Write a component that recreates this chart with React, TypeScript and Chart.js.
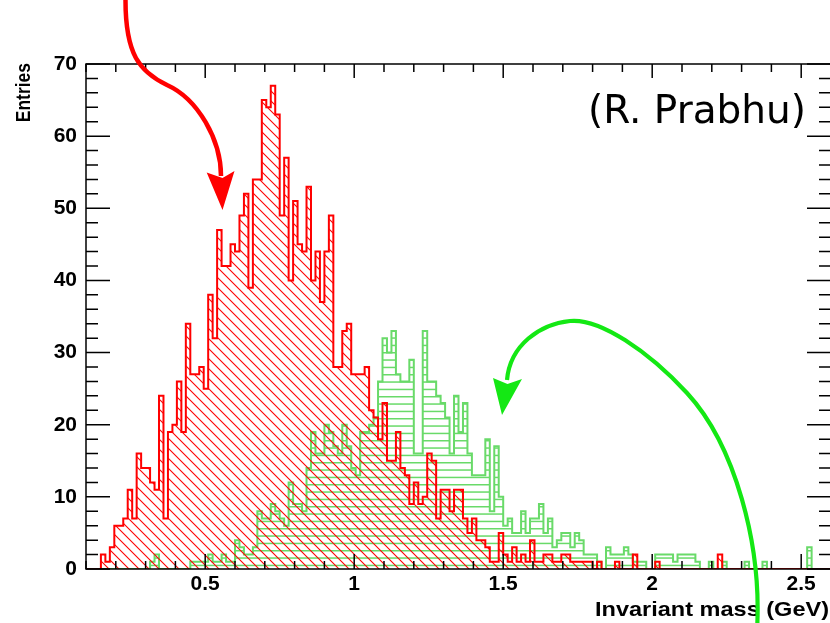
import React, { useEffect, useRef } from 'react';
import { Chart, registerables } from 'chart.js';

Chart.register(...registerables);

// ---- binning / axis ranges ----
const BIN_WIDTH = 0.015; // GeV
const X_MIN = 0.1;
const X_MAX = 2.6;
const Y_MIN = 0;
const Y_MAX = 70;

// ---- red histogram (diagonal hatch), first bin lower edge = RED_FIRST_BIN * BIN_WIDTH ----
const RED_FIRST_BIN = 10;
const redCounts = [
  2, 1, 3, 6, 6, 7, 11, 7, 16, 14,
  14, 12, 11, 24, 7, 19, 20, 26, 19, 34,
  27, 27, 28, 25, 38, 32, 47, 42, 42, 45,
  44, 49, 52, 39, 54, 54, 65, 64, 67, 63,
  49, 57, 40, 51, 45, 44, 53, 40, 44, 37,
  44, 49, 28, 28, 33, 34, 27, 27, 27, 28,
  22, 21, 18, 23, 15, 15, 19, 14, 13, 9,
  12, 9, 10, 16, 15, 7, 11, 11, 8, 11,
  11, 7, 5, 7, 4, 4, 3, 1, 1, 5,
  2, 1, 3, 1, 2, 1, 4, 1, 1, 2,
  2, 1, 1, 2, 2, 1, 1, 1, 1, 1,
  0, 1, 0, 0, 0, 1, 0, 0, 0, 2,
  0, 0, 0, 0, 1, 0, 0, 0, 0, 0,
  0, 0, 0, 0, 0, 0, 0, 0, 2,
];

// ---- green histogram (horizontal hatch) ----
const GREEN_FIRST_BIN = 21;
const greenCounts = [
  1, 2, 0, 0, 0, 0, 0, 0, 0, 1,
  1, 1, 1, 2, 1, 1, 2, 1, 1, 4,
  3, 2, 2, 3, 8, 7, 7, 9, 8, 7,
  6, 12, 9, 9, 8, 14, 19, 16, 16, 20,
  19, 17, 16, 20, 17, 14, 13, 19, 19, 20,
  21, 26, 32, 30, 33, 27, 26, 26, 29, 16,
  16, 33, 26, 26, 24, 23, 21, 16, 24, 19,
  23, 16, 13, 13, 13, 18, 8, 17, 10, 6,
  7, 5, 5, 8, 5, 7, 7, 9, 5, 7,
  3, 4, 5, 5, 3, 5, 4, 2, 2, 2,
  1, 0, 3, 2, 2, 2, 3, 2, 1, 1,
  1, 0, 0, 2, 2, 2, 2, 1, 2, 2,
  2, 2, 1, 0, 0, 1, 0, 0, 1, 0,
  0, 0, 0, 1, 0, 0, 0, 1, 0, 0,
  0, 0, 0, 0, 0, 0, 0, 3,
];

// ---- ticks and texts ----
const xTickValues = [0.5, 1, 1.5, 2, 2.5];
const yTickValues = [0, 10, 20, 30, 40, 50, 60, 70];
const X_MINOR_STEP = 0.1;
const Y_MINOR_STEP = 2;
const X_TITLE = 'Invariant mass (GeV)';
const Y_TITLE = 'Entries';
const CREDIT = '(R. Prabhu)';

// ---- annotation arrows, in data units (GeV, entries) ----
// start, then cubic segments (c1, c2, end)
const redArrowPath = [
  [0.2326, 79.15],
  [0.2309, 71.25], [0.2812, 68.89], [0.3718, 67.09],
  [0.4758, 65.15], [0.553, 59.47], [0.553, 54.48],
];
const redArrowHead = [[0.505, 54.96], [0.5581, 49.76], [0.5983, 55.17], [0.5581, 54.2]];
const greenArrowPath = [
  [2.3517, -8.46],
  [2.3685, 3.33], [2.2779, 17.19], [2.1168, 24.4],
  [1.9879, 30.16], [1.8248, 34.79], [1.7242, 34.38],
  [1.6235, 33.96], [1.5228, 31.05], [1.5128, 26.2],
];
const greenArrowHead = [[1.4658, 26.48], [1.496, 21.35], [1.5631, 26.34], [1.5144, 25.64]];

const RED = '#ff0000';
const GREEN_HIST = 'rgb(105,218,105)';
const GREEN_ARROW = 'rgb(20,232,20)';
const TICK_FONT = '"Liberation Sans", Arial, Helvetica, sans-serif';

function histPoints(first: number, counts: number[]) {
  const lo = Math.floor(X_MIN / BIN_WIDTH + 1e-9) - 1;
  const hi = Math.ceil(X_MAX / BIN_WIDTH - 1e-9) + 1;
  const pts: { x: number; y: number }[] = [{ x: lo * BIN_WIDTH, y: 0 }];
  for (let i = lo; i < hi; i++) {
    const k = i - first;
    const v = k >= 0 && k < counts.length ? counts[k] : 0;
    pts.push({ x: i * BIN_WIDTH, y: v });
  }
  pts.push({ x: hi * BIN_WIDTH, y: 0 });
  return pts;
}

function makeDiagPattern(ctx: CanvasRenderingContext2D) {
  const s = 10;
  const c = document.createElement('canvas');
  c.width = s;
  c.height = s;
  const g = c.getContext('2d')!;
  g.strokeStyle = RED;
  g.lineWidth = 1.1;
  g.beginPath();
  g.moveTo(-1, -1); g.lineTo(s + 1, s + 1);
  g.moveTo(s - 1, -1); g.lineTo(s + 1, 1);
  g.moveTo(-1, s - 1); g.lineTo(1, s + 1);
  g.stroke();
  return ctx.createPattern(c, 'repeat')!;
}

function makeHorizPattern(ctx: CanvasRenderingContext2D) {
  const w = 8, h = 22;
  const c = document.createElement('canvas');
  c.width = w;
  c.height = h;
  const g = c.getContext('2d')!;
  g.fillStyle = GREEN_HIST;
  [0, 7.3, 14.7].forEach((y) => g.fillRect(0, y, w, 1.5));
  return ctx.createPattern(c, 'repeat')!;
}

const rootFramePlugin = {
  id: 'rootFrame',
  afterDraw(chart: any) {
    const { ctx, chartArea: a, scales } = chart;
    const xs = scales.x;
    const ys = scales.y;
    const P = (p: number[]) => [xs.getPixelForValue(p[0]), ys.getPixelForValue(p[1])];
    ctx.save();

    // frame
    ctx.strokeStyle = '#000';
    ctx.lineWidth = 1.5;
    ctx.strokeRect(a.left, a.top, a.right - a.left, a.bottom - a.top);

    // x ticks (inward on bottom and top)
    const nX = Math.round((X_MAX - X_MIN) / X_MINOR_STEP);
    ctx.beginPath();
    for (let k = 0; k <= nX; k++) {
      const v = X_MIN + k * X_MINOR_STEP;
      const major = xTickValues.some((t) => Math.abs(t - v) < 1e-6);
      const px = xs.getPixelForValue(v);
      ctx.moveTo(px, a.bottom);
      ctx.lineTo(px, a.bottom - (major ? 15 : 8));
      ctx.moveTo(px, a.top);
      ctx.lineTo(px, a.top + (major ? 14 : 8));
    }
    // y ticks (inward on left and right)
    for (let v = Y_MIN; v <= Y_MAX + 1e-9; v += Y_MINOR_STEP) {
      const major = yTickValues.includes(v);
      const py = ys.getPixelForValue(v);
      const len = major ? 24 : 12;
      ctx.moveTo(a.left, py);
      ctx.lineTo(a.left + len, py);
      ctx.moveTo(a.right, py);
      ctx.lineTo(a.right - len, py);
    }
    ctx.stroke();

    // axis titles
    ctx.fillStyle = '#000';
    ctx.font = `bold 18px ${TICK_FONT}`;
    ctx.save();
    ctx.translate(30, a.top - 1);
    ctx.rotate(-Math.PI / 2);
    ctx.scale(0.97, 1.15);
    ctx.textAlign = 'right';
    ctx.textBaseline = 'alphabetic';
    ctx.fillText(Y_TITLE, 0, 0);
    ctx.restore();

    ctx.save();
    ctx.translate(829, 616);
    ctx.scale(1.12, 1);
    ctx.font = `bold 21px ${TICK_FONT}`;
    ctx.textAlign = 'right';
    ctx.textBaseline = 'alphabetic';
    ctx.fillText(X_TITLE, 0, 0);
    ctx.restore();

    // credit
    ctx.font = '39px "DejaVu Sans", Verdana, sans-serif';
    ctx.textAlign = 'right';
    ctx.textBaseline = 'alphabetic';
    ctx.fillText(CREDIT, a.right - 25, a.top + 59);

    // arrows
    const drawArrow = (path: number[][], head: number[][], color: string, width: number) => {
      const pts = path.map(P);
      ctx.strokeStyle = color;
      ctx.fillStyle = color;
      ctx.lineWidth = width;
      ctx.lineCap = 'butt';
      ctx.lineJoin = 'round';
      ctx.beginPath();
      ctx.moveTo(pts[0][0], pts[0][1]);
      for (let i = 1; i + 2 < pts.length; i += 3) {
        ctx.bezierCurveTo(pts[i][0], pts[i][1], pts[i + 1][0], pts[i + 1][1], pts[i + 2][0], pts[i + 2][1]);
      }
      ctx.stroke();
      const hp = head.map(P);
      ctx.beginPath();
      ctx.moveTo(hp[0][0], hp[0][1]);
      for (let i = 1; i < hp.length; i++) ctx.lineTo(hp[i][0], hp[i][1]);
      ctx.closePath();
      ctx.fill();
    };
    drawArrow(redArrowPath, redArrowHead, RED, 4.5);
    drawArrow(greenArrowPath, greenArrowHead, GREEN_ARROW, 4.2);

    ctx.restore();
  },
};

export default function App() {
  const ref = useRef<HTMLCanvasElement>(null);

  useEffect(() => {
    const canvas = ref.current!;
    const ctx = canvas.getContext('2d')!;
    const redPattern = makeDiagPattern(ctx);
    const greenPattern = makeHorizPattern(ctx);

    const chart = new Chart(canvas, {
      type: 'line',
      data: {
        datasets: [
          {
            label: 'red',
            data: histPoints(RED_FIRST_BIN, redCounts),
            stepped: 'before',
            borderColor: RED,
            borderWidth: 2,
            backgroundColor: redPattern as any,
            fill: 'origin',
            pointRadius: 0,
            pointHoverRadius: 0,
            tension: 0,
            order: 0,
          },
          {
            label: 'green',
            data: histPoints(GREEN_FIRST_BIN, greenCounts),
            stepped: 'before',
            borderColor: GREEN_HIST,
            borderWidth: 2,
            backgroundColor: greenPattern as any,
            fill: 'origin',
            pointRadius: 0,
            pointHoverRadius: 0,
            tension: 0,
            order: 1,
          },
        ],
      },
      options: {
        animation: false,
        responsive: false,
        devicePixelRatio: 1,
        events: [],
        layout: { padding: { top: 64, right: 9, left: 0, bottom: 0 } },
        plugins: {
          legend: { display: false },
          tooltip: { enabled: false },
          title: { display: false },
        },
        scales: {
          x: {
            type: 'linear',
            min: X_MIN,
            max: X_MAX,
            grid: { display: false, drawTicks: false },
            border: { display: false },
            afterFit: (s: any) => { s.height = 54; },
            afterBuildTicks: (s: any) => { s.ticks = xTickValues.map((v) => ({ value: v })); },
            ticks: {
              autoSkip: false,
              maxRotation: 0,
              padding: 3,
              color: '#000',
              font: { family: TICK_FONT, size: 21, weight: 'bold' },
              callback: (v: any) => String(v),
            },
          },
          y: {
            type: 'linear',
            min: Y_MIN,
            max: Y_MAX,
            grid: { display: false, drawTicks: false },
            border: { display: false },
            afterFit: (s: any) => { s.width = 86; },
            afterBuildTicks: (s: any) => { s.ticks = yTickValues.map((v) => ({ value: v })); },
            ticks: {
              autoSkip: false,
              padding: 9,
              color: '#000',
              font: { family: TICK_FONT, size: 21, weight: 'bold' },
              callback: (v: any) => String(v),
            },
          },
        },
      },
      plugins: [rootFramePlugin],
    } as any);

    return () => chart.destroy();
  }, []);

  return (
    <div
      style={{
        position: 'fixed',
        left: 0,
        top: 0,
        width: 830,
        height: 623,
        overflow: 'hidden',
        background: '#fff',
      }}
    >
      <canvas ref={ref} width={840} height={623} style={{ display: 'block', width: 840, height: 623 }} />
    </div>
  );
}
